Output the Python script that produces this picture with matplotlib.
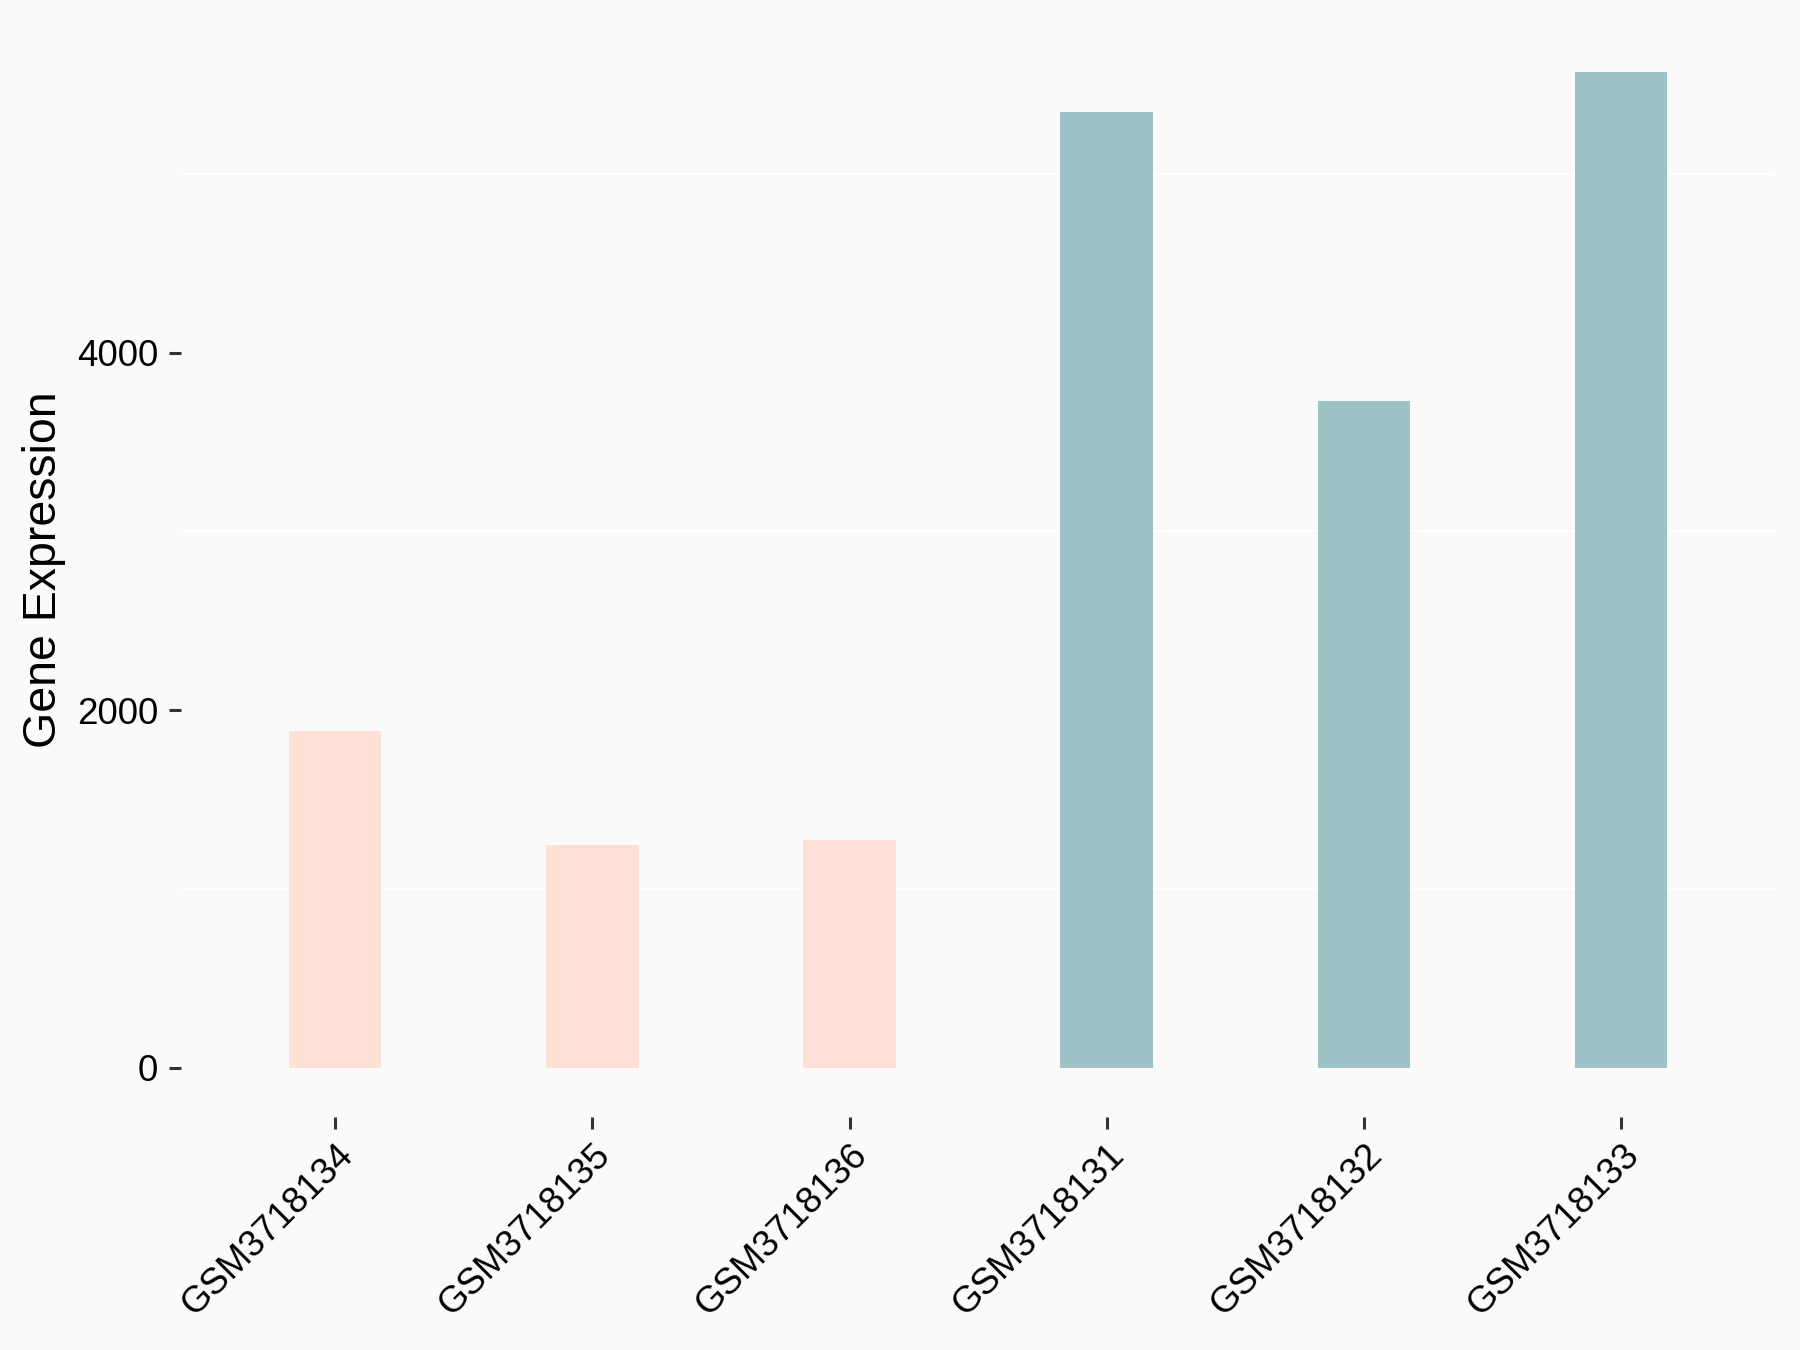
import matplotlib.pyplot as plt
import numpy as np

samples = ["GSM3718134", "GSM3718135", "GSM3718136", "GSM3718131", "GSM3718132", "GSM3718133"]
expression = [1880, 1243, 1271, 5345, 3730, 5568]
groups = ["A", "A", "A", "B", "B", "B"]
group_colors = {"A": "#FEE0D6", "B": "#9DC3C7"}

plt.rcParams['font.family'] = ['Liberation Sans', 'DejaVu Sans']

fig = plt.figure(figsize=(18, 13.5), dpi=100)
fig.patch.set_facecolor("#FAFAFA")
ax = fig.add_axes([0.1005, 0.1724, 0.8858, 0.8109])
ax.set_facecolor("#FAFAFA")

x = np.arange(1, len(samples) + 1)
colors = [group_colors[g] for g in groups]
ax.bar(x, expression, width=0.36, color=colors, zorder=2)

# ggplot-style expanded limits
ymax = max(expression)
ax.set_xlim(0.4, len(samples) + 0.6)
ax.set_ylim(-0.05 * ymax, 1.05 * ymax)

# only the minor grid shows in white
for v in [1000, 3000, 5000]:
    ax.axhline(v, color="white", linewidth=1.5, zorder=1)

ax.set_yticks([0, 2000, 4000])
ax.set_yticklabels(["0", "2000", "4000"])
ax.set_xticks(x)
ax.set_xticklabels(samples, rotation=45, ha="right", va="top", rotation_mode="anchor")

ax.tick_params(axis="both", colors="#333333", length=8.5, width=2.2, labelsize=26.5, labelcolor="black")
ax.tick_params(axis="y", pad=8)
ax.tick_params(axis="x", pad=6)

ax.set_ylabel("Gene Expression", fontsize=33.5, color="black", labelpad=8)

for s in ax.spines.values():
    s.set_visible(False)

fig.savefig("out.png", dpi=100, facecolor=fig.get_facecolor())
